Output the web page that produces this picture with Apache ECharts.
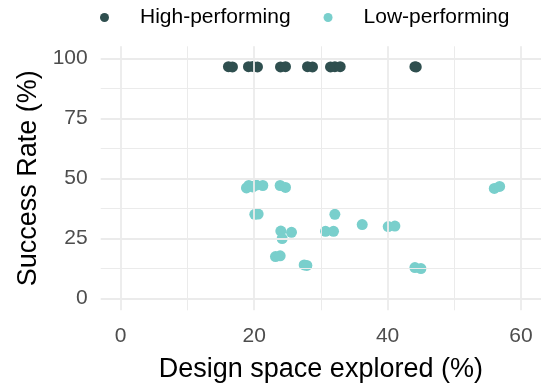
<!DOCTYPE html>
<html>
<head>
<meta charset="utf-8">
<script src="https://cdn.jsdelivr.net/npm/echarts@6/dist/echarts.min.js"></script>
<style>
html,body{margin:0;padding:0;background:#fff;}
#chart{width:544px;height:383px;}
</style>
</head>
<body>
<div id="chart"></div>
<script>
// Series names
const seriesNames = ['High-performing', 'Low-performing'];
// High-performing points: design space explored (%) and success rate (%)
const highX = [16.15, 16.75, 19.15, 19.8, 20.5, 23.95, 24.7, 28.0, 28.75, 31.45, 32.1, 32.9, 44.1, 44.3];
const highY = [96.5, 96.4, 96.5, 96.6, 96.4, 96.4, 96.5, 96.5, 96.4, 96.4, 96.5, 96.5, 96.5, 96.4];
// Low-performing points
const lowX = [18.85, 19.2, 19.8, 20.3, 21.3, 23.9, 24.7, 20.1, 20.6, 24.0, 24.2, 25.6, 23.2, 23.9, 27.5, 27.9, 32.1, 30.7, 31.9, 36.2, 40.1, 41.1, 44.1, 45.0, 56.0, 56.8];
const lowY = [46.0, 47.0, 46.4, 47.2, 47.0, 47.0, 46.2, 35.0, 35.1, 28.0, 24.9, 27.5, 17.4, 17.7, 13.9, 13.7, 35.0, 27.9, 27.9, 30.7, 29.9, 30.1, 12.8, 12.4, 45.8, 46.6];
// Axis ticks
const xTicks = [0, 20, 40, 60];
const yTicks = [0, 25, 50, 75, 100];
const xMinorGrid = [10, 30, 50];
const yMinorGrid = [12.5, 37.5, 62.5, 87.5];

const highData = highX.map((x, i) => [x, highY[i]]);
const lowData = lowX.map((x, i) => [x, lowY[i]]);

const gridColor = '#ebebeb';
const gridLines = [];
xTicks.forEach(v => gridLines.push({xAxis: v, lineStyle: {width: 1.8, color: gridColor, type: 'solid'}}));
xMinorGrid.forEach(v => gridLines.push({xAxis: v, lineStyle: {width: 1, color: gridColor, type: 'solid'}}));
yTicks.forEach(v => gridLines.push({yAxis: v, lineStyle: {width: 1.8, color: gridColor, type: 'solid'}}));
yMinorGrid.forEach(v => gridLines.push({yAxis: v, lineStyle: {width: 1, color: gridColor, type: 'solid'}}));

const chart = echarts.init(document.getElementById('chart'), null, {renderer: 'canvas'});
chart.setOption({
  animation: false,
  backgroundColor: '#ffffff',
  textStyle: {fontFamily: 'Liberation Sans, Arial, sans-serif'},
  legend: {
    data: seriesNames,
    left: 95,
    top: 2,
    icon: 'circle',
    itemWidth: 9,
    itemHeight: 9,
    itemGap: 33,
    textStyle: {fontSize: 21, color: '#000', padding: [0, 0, 0, 26], fontFamily: 'Liberation Sans, Arial, sans-serif'}
  },
  grid: {left: 100.7, right: 3, top: 46.3, bottom: 72.7, containLabel: false, outerBoundsMode: 'none'},
  xAxis: {
    type: 'value',
    min: -3, max: 63,
    name: 'Design space explored (%)',
    nameLocation: 'middle',
    nameGap: 46,
    nameTextStyle: {fontSize: 27, color: '#000', fontFamily: 'Liberation Sans, Arial, sans-serif'},
    axisLine: {show: false},
    axisTick: {show: false},
    splitLine: {show: false},
    axisLabel: {
      customValues: xTicks,
      fontSize: 21, color: '#4d4d4d', margin: 15,
      formatter: v => (xTicks.indexOf(v) >= 0 ? String(v) : '')
    }
  },
  yAxis: {
    type: 'value',
    min: -5, max: 105,
    name: 'Success Rate (%)',
    nameLocation: 'middle',
    nameGap: 58,
    nameTextStyle: {fontSize: 27, color: '#000', fontFamily: 'Liberation Sans, Arial, sans-serif'},
    axisLine: {show: false},
    axisTick: {show: false},
    splitLine: {show: false},
    axisLabel: {
      customValues: yTicks,
      fontSize: 21, color: '#4d4d4d', margin: 13,
      formatter: v => (yTicks.indexOf(v) >= 0 ? String(v) : '')
    }
  },
  series: [
    {
      name: '__grid',
      type: 'line',
      data: [],
      z: 0,
      silent: true,
      markLine: {silent: true, symbol: 'none', label: {show: false}, animation: false, data: gridLines}
    },
    {
      name: seriesNames[0],
      type: 'scatter',
      data: highData,
      symbolSize: 11,
      z: 3,
      itemStyle: {color: '#2f4f4f', opacity: 1}
    },
    {
      name: seriesNames[1],
      type: 'scatter',
      data: lowData,
      symbolSize: 11,
      z: 3,
      itemStyle: {color: '#79cfcc', opacity: 1}
    }
  ]
});
</script>
</body>
</html>
